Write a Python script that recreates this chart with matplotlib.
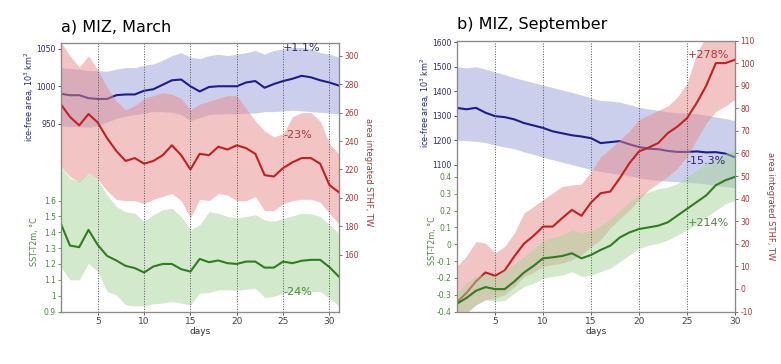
import numpy as np
import matplotlib.pyplot as plt

# ---- data ----
days_a = np.arange(1, 32)
area_a = [990, 988, 988, 984, 983, 983, 988, 989, 989, 994, 996, 1002, 1008, 1009, 1000, 993,
          999, 1000, 1000, 1000, 1005, 1007, 998, 1003, 1007, 1010, 1014, 1012, 1008, 1005, 1001]
area_a_hi = [1025, 1024, 1023, 1021, 1021, 1020, 1023, 1025, 1025, 1028, 1030, 1035, 1041, 1045, 1039, 1037,
             1041, 1043, 1041, 1043, 1045, 1048, 1043, 1048, 1050, 1052, 1052, 1050, 1045, 1043, 1039]
area_a_lo = [947, 946, 946, 945, 947, 952, 957, 960, 962, 964, 966, 966, 965, 962, 954, 958,
             962, 963, 963, 963, 964, 964, 966, 966, 967, 968, 967, 966, 965, 964, 963]
sthf_a = [266, 257, 251, 259, 253, 242, 233, 226, 228, 224, 226, 230, 237, 230, 220, 231,
          230, 236, 234, 237, 235, 231, 216, 215, 221, 225, 228, 228, 224, 209, 204]
sthf_a_hi = [310, 300, 292, 300, 290, 278, 268, 262, 265, 270, 272, 274, 273, 270, 262, 266,
             268, 270, 272, 272, 263, 254, 247, 243, 245, 257, 260, 260, 254, 238, 231]
sthf_a_lo = [222, 215, 211, 218, 213, 205, 199, 198, 198, 196, 199, 201, 203, 198, 186, 199,
             198, 203, 202, 198, 198, 201, 191, 191, 196, 198, 199, 199, 197, 189, 182]
sst_a = [1.457, 1.316, 1.306, 1.415, 1.32, 1.251, 1.222, 1.188, 1.174, 1.146, 1.184, 1.2, 1.2, 1.167,
         1.152, 1.232, 1.211, 1.222, 1.205, 1.2, 1.215, 1.215, 1.177, 1.177, 1.215, 1.205, 1.22,
         1.226, 1.226, 1.18, 1.121]
sst_a_hi = [1.814, 1.741, 1.72, 1.783, 1.73, 1.636, 1.562, 1.53, 1.52, 1.468, 1.51, 1.541, 1.552, 1.5,
            1.415, 1.447, 1.53, 1.52, 1.5, 1.489, 1.5, 1.51, 1.478, 1.468, 1.489, 1.503, 1.52, 1.516,
            1.5, 1.447, 1.394]
sst_a_lo = [1.184, 1.1, 1.1, 1.205, 1.152, 1.026, 1.005, 0.942, 0.936, 0.936, 0.949, 0.953, 0.963,
            0.953, 0.942, 1.016, 1.02, 1.037, 1.037, 1.033, 1.041, 1.047, 0.988, 0.995, 1.016, 1.026,
            1.016, 1.026, 1.026, 0.984, 0.936]

days_b = np.arange(1, 31)
area_b = [1332, 1326, 1332, 1312, 1298, 1294, 1285, 1270, 1260, 1250, 1236, 1228, 1220, 1215, 1208,
          1188, 1192, 1196, 1183, 1172, 1165, 1163, 1156, 1152, 1152, 1154, 1150, 1151, 1145, 1130]
area_b_hi = [1500, 1495, 1500, 1490, 1478, 1468, 1455, 1445, 1435, 1425, 1415, 1405, 1395, 1385, 1372,
             1362, 1360, 1355, 1345, 1335, 1327, 1322, 1316, 1312, 1310, 1308, 1302, 1295, 1288, 1280]
area_b_lo = [1200, 1198, 1195, 1190, 1180, 1172, 1165, 1152, 1142, 1130, 1120, 1110, 1100, 1090, 1080,
             1072, 1066, 1060, 1055, 1046, 1040, 1036, 1032, 1030, 1028, 1025, 1020, 1015, 1010, 1005]
sthf_b = [-6, -1.8, 3.3, 7.3, 5.8, 8.2, 14.4, 20, 23.5, 27.6, 27.6, 31.4, 35, 32.4, 38.3, 42.4,
          43.1, 49.1, 55.7, 60.9, 62.6, 64.6, 69, 71.9, 75.6, 82.3, 90, 100, 100, 101.5]
sthf_b_hi = [10, 14.4, 21, 20.3, 15.9, 18.8, 24.7, 33.6, 36.5, 39.5, 42.5, 45.4, 46, 46.5, 52, 58.6,
             62, 66, 70, 75, 77, 79, 81, 85, 91, 104, 112, 113, 113, 113]
sthf_b_lo = [-13, -11, -7, -4.8, -4, -2.6, 1, 5.5, 7.3, 10, 10.7, 11.5, 12.9, 15.1, 18.8, 21.8,
             27, 31, 35, 39.5, 43.9, 46.9, 49.8, 53.5, 58.6, 66, 73.4, 78.6, 81, 84]
sst_b = [-0.354, -0.32, -0.277, -0.255, -0.267, -0.267, -0.222, -0.169, -0.129, -0.084, -0.078,
         -0.07, -0.054, -0.084, -0.064, -0.034, -0.009, 0.04, 0.07, 0.09, 0.1, 0.11, 0.13, 0.17,
         0.21, 0.25, 0.29, 0.35, 0.38, 0.40]
sst_b_hi = [-0.29, -0.23, -0.19, -0.18, -0.19, -0.153, -0.12, -0.074, -0.03, 0.02, 0.04, 0.055, 0.084,
            0.07, 0.08, 0.11, 0.15, 0.2, 0.25, 0.29, 0.31, 0.33, 0.34, 0.36, 0.40, 0.44, 0.48, 0.51,
            0.54, 0.56]
sst_b_lo = [-0.41, -0.40, -0.36, -0.33, -0.34, -0.335, -0.291, -0.252, -0.232, -0.202, -0.192, -0.183,
            -0.163, -0.192, -0.183, -0.163, -0.143, -0.104, -0.064, -0.025, -0.005, 0.005, 0.025,
            0.055, 0.084, 0.12, 0.16, 0.2, 0.24, 0.26]

day_ticks = [5, 10, 15, 20, 25, 30]

area_ticks_a = [950, 1000, 1050]
sst_ticks_a = [0.9, 1.0, 1.1, 1.2, 1.3, 1.4, 1.5, 1.6]
sst_labels_a = ['0.9', '1', '1.1', '1.2', '1.3', '1.4', '1.5', '1.6']
sthf_ticks_a = [160, 180, 200, 220, 240, 260, 280, 300]

area_ticks_b = [1100, 1200, 1300, 1400, 1500, 1600]
sst_ticks_b = [-0.4, -0.3, -0.2, -0.1, 0.0, 0.1, 0.2, 0.3, 0.4]
sst_labels_b = ['-0.4', '-0.3', '-0.2', '-0.1', '0', '0.1', '0.2', '0.3', '0.4']
sthf_ticks_b = list(range(-10, 111, 10))
sthf_labels_b = [str(v) for v in sthf_ticks_b]

BLUE, BLUE_F = '#1d1d8c', '#9aa0d8'
RED, RED_F = '#c42020', '#e88a8a'
GREEN, GREEN_F = '#2f7d20', '#a8d49a'
BLUE_T, RED_T, GREEN_T = '#2a2a78', '#a53a3a', '#4c8a3c'
SPINE = '#8a8a8a'


def panel(rect, title, days, xlim, area, a_lo, a_hi, a_lim, a_ticks,
          sthf, s_lo, s_hi, s_lim, s_ticks, s_labels,
          sst, t_lo, t_hi, t_lim, t_ticks, t_labels, notes, lab_pos):
    ax = fig.add_axes(rect)
    ax.fill_between(days, a_lo, a_hi, color=BLUE_F, alpha=0.5, lw=0)
    ax.plot(days, area, color=BLUE, lw=1.5)
    ax.set_xlim(*xlim)
    ax.set_ylim(*a_lim)
    ax.set_yticks(a_ticks)
    ax.set_yticklabels([str(v) for v in a_ticks])
    ax.tick_params(axis='y', colors=BLUE_T, labelsize=5.5, length=2, width=0.6, pad=1.5)
    ax.set_xticks(day_ticks)
    ax.tick_params(axis='x', colors='#444444', labelsize=6.5, length=2, width=0.6, pad=2)
    ax.set_xlabel('days', fontsize=6.5, color='#333333', labelpad=1)
    ax.set_ylabel('ice-free area, 10$^3$ km$^2$', fontsize=5.8, color=BLUE_T)
    ax.yaxis.set_label_coords(*lab_pos[0])
    ax.set_title(title, loc='left', fontsize=11.5, pad=8)

    ax_r = ax.twinx()
    ax_r.fill_between(days, s_lo, s_hi, color=RED_F, alpha=0.5, lw=0)
    ax_r.plot(days, sthf, color=RED, lw=1.5)
    ax_r.set_ylim(*s_lim)
    ax_r.set_yticks(s_ticks)
    ax_r.set_yticklabels(s_labels)
    ax_r.tick_params(axis='y', colors=RED_T, labelsize=5.5, length=2, width=0.6, pad=2)
    ax_r.set_ylabel('area integrated STHF, TW', fontsize=6, color=RED_T, rotation=270, va='bottom')
    ax_r.yaxis.set_label_coords(*lab_pos[2])

    ax_g = ax.twinx()
    ax_g.yaxis.tick_left()
    ax_g.yaxis.set_label_position('left')
    ax_g.fill_between(days, t_lo, t_hi, color=GREEN_F, alpha=0.5, lw=0)
    ax_g.plot(days, sst, color=GREEN, lw=1.5)
    ax_g.set_ylim(*t_lim)
    ax_g.set_yticks(t_ticks)
    ax_g.set_yticklabels(t_labels)
    ax_g.tick_params(axis='y', colors=GREEN_T, labelsize=5.5, length=2, width=0.6, pad=1.5)
    ax_g.set_ylabel('SST-T2m, °C', fontsize=5.8, color=GREEN_T)
    ax_g.yaxis.set_label_coords(*lab_pos[1])
    for d in day_ticks:
        ax_g.axvline(d, color='#555555', ls=':', lw=0.7)

    for a in (ax, ax_r, ax_g):
        for sp in a.spines.values():
            sp.set_color(SPINE)
            sp.set_linewidth(0.8)

    for txt, x, y, c in notes:
        ax_g.text(x, y, txt, transform=ax_g.transAxes, color=c, fontsize=8,
                  ha='left', va='center')


fig = plt.figure(figsize=(7.81, 3.64), dpi=100)

panel([0.0777, 0.1442, 0.356, 0.7377], 'a) MIZ, March', days_a, (1, 31),
      area_a, area_a_lo, area_a_hi, (698, 1058), area_ticks_a,
      sthf_a, sthf_a_lo, sthf_a_hi, (120, 309), sthf_ticks_a, [str(v) for v in sthf_ticks_a],
      sst_a, sst_a_lo, sst_a_hi, (0.9, 2.594), sst_ticks_a, sst_labels_a,
      [('+1.1%', 0.80, 0.98, BLUE_T), ('-23%', 0.80, 0.657, RED_T), ('-24%', 0.80, 0.0715, GREEN_T)],
      [(-0.09, 0.80), (-0.078, 0.26), (1.09, 0.52)])

panel([0.5848, 0.1442, 0.3563, 0.7445], 'b) MIZ, September', days_b, (1, 30),
      area_b, area_b_lo, area_b_hi, (500, 1607), area_ticks_b,
      sthf_b, sthf_b_lo, sthf_b_hi, (-10, 110), sthf_ticks_b, sthf_labels_b,
      sst_b, sst_b_lo, sst_b_hi, (-0.4, 1.21), sst_ticks_b, sst_labels_b,
      [('+278%', 0.83, 0.946, RED_T), ('-15.3%', 0.826, 0.556, BLUE_T), ('+214%', 0.83, 0.325, GREEN_T)],
      [(-0.09, 0.77), (-0.072, 0.26), (1.11, 0.39)])

fig.savefig('out.png', dpi=100)
